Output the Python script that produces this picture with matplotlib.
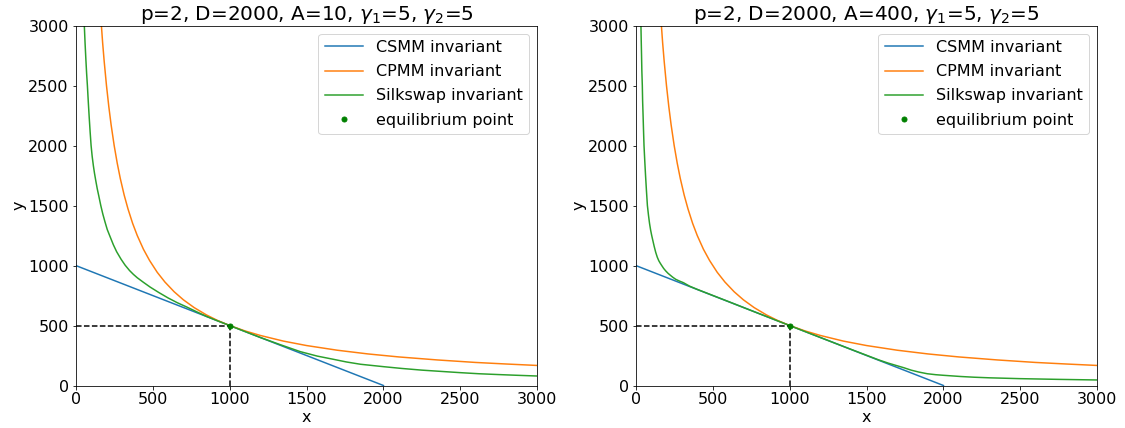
import matplotlib
matplotlib.use("Agg")
import matplotlib.pyplot as plt

# ---- data ----
p_val = 2
D_val = 2000
A_vals = [10, 400]
gamma1 = 5
gamma2 = 5

csmm_x = [0, 2000]
csmm_y = [1000, 0]

cpmm_x = [167, 175, 185, 200, 215, 230, 250, 270, 290, 315, 340, 370, 400, 440, 480,
          530, 580, 640, 700, 770, 850, 920, 1000, 1100, 1200, 1350, 1500, 1700, 1900,
          2100, 2350, 2600, 2800, 3000]
cpmm_y = [3000, 2857, 2703, 2500, 2326, 2174, 2000, 1852, 1724, 1587, 1471, 1351, 1250,
          1136, 1042, 943, 862, 781, 714, 649, 588, 543, 500, 455, 417, 370, 333, 294,
          263, 238, 213, 192, 179, 167]

silk_x_A10 = [56, 61, 66, 71, 76, 82, 88, 94, 100, 107, 115, 122, 130, 140, 150, 163,
              176, 190, 205, 223, 245, 266, 295, 321, 350, 375, 400, 440, 484, 540, 600,
              660, 720, 790, 850, 920, 1000, 1100, 1200, 1330, 1460, 1570, 1676, 1760,
              1851, 2000, 2120, 2250, 2380, 2500, 2620, 2750, 2870, 3000]
silk_y_A10 = [3000, 2850, 2720, 2600, 2500, 2360, 2230, 2110, 2000, 1910, 1830, 1770,
              1710, 1640, 1580, 1500, 1430, 1365, 1300, 1242, 1172, 1115, 1052, 1003, 958,
              926, 898, 860, 820, 775, 730, 690, 655, 612, 576, 540, 500, 450, 400, 340,
              282, 245, 218, 196, 177, 157, 142, 128, 117, 107, 98, 91, 85, 79]

silk_x_A400 = [34, 36, 38, 40, 43, 45, 48, 51, 54, 59, 64, 70, 76, 83, 90, 97, 104, 112,
               120, 130, 140, 150, 160, 169, 182, 195, 210, 223, 240, 260, 285, 310, 350,
               400, 500, 600, 800, 1000, 1200, 1400, 1500, 1580, 1640, 1690, 1743, 1790,
               1840, 1895, 1950, 2000, 2112, 2200, 2300, 2500, 2750, 3000]
silk_y_A400 = [3000, 2870, 2750, 2620, 2500, 2370, 2250, 2120, 2000, 1870, 1750, 1620,
               1500, 1420, 1350, 1295, 1250, 1205, 1160, 1110, 1070, 1040, 1018, 1000,
               975, 955, 935, 921, 903, 885, 870, 857, 828, 801, 751, 701, 600, 500, 400,
               301, 252, 213, 187, 168, 148, 128, 112, 98, 90, 85, 75, 69, 64, 57, 51, 46]

eq_x = 1000
eq_y = 500

silk_x = [silk_x_A10, silk_x_A400]
silk_y = [silk_y_A10, silk_y_A400]

# ---- figure ----
plt.rcParams['font.family'] = ['DejaVu Sans']
fig = plt.figure(figsize=(1125 / 72, 428 / 72), dpi=72)
lefts = [75.7 / 1125, 635.7 / 1125]
width = 461.6 / 1125
bottom = 1 - 385.5 / 428
height = 360.0 / 428

for i, A in enumerate(A_vals):
    ax = fig.add_axes([lefts[i], bottom, width, height])
    ax.plot(csmm_x, csmm_y, color='tab:blue', lw=1.5, label='CSMM invariant')
    ax.plot(cpmm_x, cpmm_y, color='tab:orange', lw=1.5, label='CPMM invariant')
    ax.plot(silk_x[i], silk_y[i], color='tab:green', lw=1.5, label='Silkswap invariant')
    ax.plot([0, eq_x], [eq_y, eq_y], color='black', ls='--', lw=1.5)
    ax.plot([eq_x, eq_x], [0, eq_y], color='black', ls='--', lw=1.5)
    ax.plot([eq_x], [eq_y], 'o', color='green', markersize=5, label='equilibrium point')
    ax.set_xlim(0, 3000)
    ax.set_ylim(0, 3000)
    ax.set_xticks([0, 500, 1000, 1500, 2000, 2500, 3000])
    ax.set_yticks([0, 500, 1000, 1500, 2000, 2500, 3000])
    ax.tick_params(labelsize=16)
    ax.set_xlabel('x', fontsize=16, labelpad=2)
    ax.set_ylabel('y', fontsize=16, labelpad=2)
    ax.set_title(r'p=%d, D=%d, A=%d, $\gamma_1$=%d, $\gamma_2$=%d'
                 % (p_val, D_val, A, gamma1, gamma2), fontsize=20, pad=3)
    ax.legend(loc='upper right', fontsize=16, numpoints=1,
              handlelength=2.4, labelspacing=0.58)

fig.savefig('out.png', dpi=72)
